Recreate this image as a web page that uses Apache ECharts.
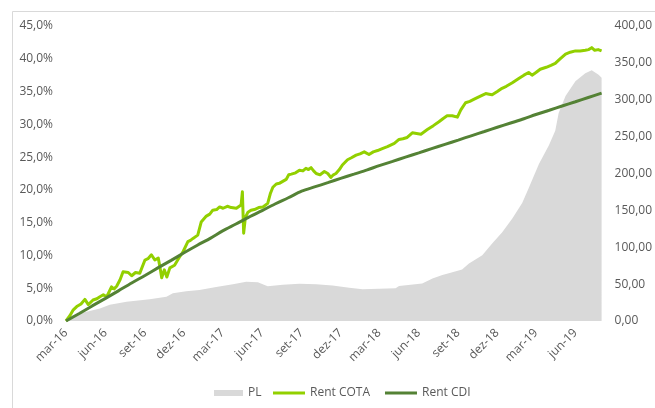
<!DOCTYPE html>
<html>
<head>
<meta charset="utf-8">
<script src="https://cdn.jsdelivr.net/npm/echarts@6/dist/echarts.min.js"></script>
<style>
html,body{margin:0;padding:0;background:#fff;}
#c{width:655px;height:408px;}
</style>
</head>
<body>
<div id="c"></div>
<script>
// ---- DATA ----
const xTickDates = ['2016-03-01','2016-06-01','2016-09-01','2016-12-01','2017-03-01','2017-06-01','2017-09-01','2017-12-01','2018-03-01','2018-06-01','2018-09-01','2018-12-01','2019-03-01','2019-06-01'];
const xTickLabels = ['mar-16','jun-16','set-16','dez-16','mar-17','jun-17','set-17','dez-17','mar-18','jun-18','set-18','dez-18','mar-19','jun-19'];

const plDates = ['2016-03-01','2016-03-18','2016-04-18','2016-05-19','2016-06-11','2016-07-20','2016-09-12','2016-10-21','2016-11-05','2016-12-06','2017-01-06','2017-02-14','2017-03-25','2017-04-25','2017-05-22','2017-06-14','2017-07-19','2017-08-27','2017-10-05','2017-11-12','2017-12-21','2018-01-21','2018-04-08','2018-04-16','2018-06-09','2018-07-03','2018-07-26','2018-08-10','2018-09-10','2018-09-26','2018-10-27','2018-11-19','2018-12-12','2019-01-05','2019-01-28','2019-02-12','2019-03-08','2019-03-31','2019-04-15','2019-04-23','2019-05-09','2019-06-01','2019-06-24','2019-07-09','2019-07-25','2019-08-01'];
const plValues = [0,8,12.6,17,22,26,29.5,33,37.5,40.5,42,46,50,53.3,52.5,47,49,50.5,50,48,45,43,44.3,47.5,51,57.5,62.4,64.7,70,78,89,105,120,139,160,180,213,238,258,282,305,325,336,340,334,330];

const cotaDates = ['2016-03-01','2016-03-10','2016-03-18','2016-03-26','2016-04-05','2016-04-14','2016-04-22','2016-05-03','2016-05-12','2016-05-19','2016-05-27','2016-06-04','2016-06-15','2016-06-21','2016-06-27','2016-07-05','2016-07-12','2016-07-24','2016-08-01','2016-08-10','2016-08-20','2016-09-01','2016-09-08','2016-09-16','2016-09-24','2016-10-02','2016-10-06','2016-10-10','2016-10-16','2016-10-22','2016-10-29','2016-11-09','2016-11-18','2016-11-29','2016-12-10','2016-12-16','2016-12-22','2017-01-02','2017-01-10','2017-01-22','2017-01-30','2017-02-06','2017-02-15','2017-02-22','2017-03-02','2017-03-12','2017-03-21','2017-04-02','2017-04-13','2017-04-16','2017-04-19','2017-04-23','2017-04-29','2017-05-06','2017-05-14','2017-05-24','2017-06-03','2017-06-14','2017-06-20','2017-06-26','2017-07-04','2017-07-11','2017-07-19','2017-07-27','2017-08-02','2017-08-08','2017-08-18','2017-08-27','2017-09-04','2017-09-11','2017-09-17','2017-09-23','2017-09-29','2017-10-05','2017-10-14','2017-10-24','2017-11-01','2017-11-08','2017-11-14','2017-11-20','2017-11-28','2017-12-05','2017-12-17','2017-12-26','2018-01-06','2018-01-15','2018-01-25','2018-02-05','2018-02-15','2018-02-25','2018-03-08','2018-03-20','2018-04-05','2018-04-16','2018-04-25','2018-05-05','2018-05-17','2018-05-27','2018-06-06','2018-06-21','2018-07-05','2018-07-18','2018-07-28','2018-08-06','2018-08-18','2018-08-30','2018-09-07','2018-09-18','2018-09-28','2018-10-07','2018-10-19','2018-11-04','2018-11-12','2018-11-19','2018-12-01','2018-12-12','2018-12-22','2019-01-05','2019-01-20','2019-02-01','2019-02-12','2019-02-20','2019-03-01','2019-03-11','2019-03-25','2019-04-05','2019-04-15','2019-04-25','2019-05-09','2019-05-20','2019-06-01','2019-06-12','2019-06-24','2019-07-02','2019-07-09','2019-07-16','2019-07-24','2019-08-01'];
const cotaValues = [0.0,0.8,1.7,2.2,2.6,3.3,2.5,3.2,3.4,3.7,4.0,3.7,5.2,4.9,5.3,6.3,7.5,7.4,6.9,7.4,7.3,9.3,9.5,10.1,9.3,9.6,8.2,6.6,7.8,6.7,8.1,8.5,9.5,10.6,12.1,12.3,12.6,13.1,15.1,16.0,16.3,16.9,17.0,17.4,17.2,17.5,17.3,17.2,17.7,19.7,13.4,15.8,16.6,16.9,17.0,17.3,17.4,17.95,19.4,20.4,20.9,21.0,21.3,21.6,22.3,22.4,22.6,23.0,22.9,23.3,23.1,23.4,22.9,22.5,22.3,22.8,22.5,21.9,22.3,22.5,23.1,23.8,24.6,24.9,25.3,25.5,25.8,25.4,25.8,26.0,26.3,26.6,27.1,27.7,27.8,28.0,28.7,28.6,28.5,29.2,29.8,30.4,30.9,31.3,31.3,31.1,32.2,33.3,33.5,33.8,34.2,34.7,34.6,34.5,35.0,35.5,35.8,36.35,37.0,37.5,37.9,37.5,37.9,38.4,38.7,39.0,39.3,39.9,40.7,41.0,41.2,41.2,41.3,41.4,41.7,41.3,41.4,41.2];

const cdiDates = ['2016-03-01','2016-04-01','2016-05-01','2016-06-01','2016-07-01','2016-08-01','2016-09-01','2016-10-01','2016-11-01','2016-12-01','2017-01-01','2017-02-01','2017-03-01','2017-04-01','2017-05-01','2017-06-01','2017-07-01','2017-08-01','2017-09-01','2017-10-01','2017-11-01','2017-12-01','2018-01-01','2018-02-01','2018-03-01','2018-04-01','2018-05-01','2018-06-01','2018-07-01','2018-08-01','2018-09-01','2018-10-01','2018-11-01','2018-12-01','2019-01-01','2019-02-01','2019-03-01','2019-04-01','2019-05-01','2019-06-01','2019-07-01','2019-08-01'];
const cdiValues = [0,1.15,2.3,3.45,4.6,5.8,6.95,8.1,9.25,10.4,11.55,12.65,13.75,14.8,15.85,16.85,17.85,18.8,19.8,20.45,21.1,21.75,22.4,23.05,23.7,24.35,25.0,25.65,26.3,26.95,27.6,28.25,28.9,29.55,30.2,30.85,31.5,32.15,32.8,33.45,34.1,34.75];

// ---- CHART ----
const ts = s => { const p = s.split('-').map(Number); return Date.UTC(p[0], p[1] - 1, p[2]); };
const zip = (d, v) => d.map((x, i) => [ts(x), v[i]]);
const tickTs = xTickDates.map(ts);
const FONT = '"Open Sans", "Noto Sans", sans-serif';
const GREY = '#595959';

const chart = echarts.init(document.getElementById('c'), null, {renderer: 'canvas'});
chart.setOption({
  animation: false,
  backgroundColor: '#fff',
  textStyle: {fontFamily: FONT},
  graphic: [{
    type: 'rect', left: 10, top: 9, silent: true, z: -10,
    shape: {x: 0, y: 0, width: 700, height: 450},
    style: {fill: 'none', stroke: '#D9D9D9', lineWidth: 1}
  }],
  grid: {left: 66, right: 52, top: 26, bottom: 87, containLabel: false},
  legend: [{
    left: 214, top: 387, padding: 0, itemWidth: 29, itemHeight: 6, itemGap: 15,
    textStyle: {color: GREY, fontSize: 12, fontFamily: FONT},
    data: [{name: 'PL', icon: 'rect'}]
  }, {
    left: 273, top: 387, padding: 0, itemWidth: 32, itemHeight: 3, itemGap: 15,
    textStyle: {color: GREY, fontSize: 12, fontFamily: FONT},
    data: [{name: 'Rent COTA', icon: 'rect'}, {name: 'Rent CDI', icon: 'rect'}]
  }],
  xAxis: {
    type: 'value',
    min: ts('2016-03-01'), max: ts('2019-08-01'),
    axisLine: {show: false},
    axisTick: {show: false},
    splitLine: {show: false},
    axisLabel: {
      customValues: tickTs,
      rotate: 45, margin: 10, color: GREY, fontSize: 12, fontFamily: FONT,
      formatter: (v) => {
        let best = 0, bd = Infinity;
        tickTs.forEach((t, i) => { const d = Math.abs(t - v); if (d < bd) { bd = d; best = i; } });
        return xTickLabels[best];
      }
    }
  },
  yAxis: [{
    type: 'value', min: 0, max: 45, interval: 5,
    axisLine: {show: false}, axisTick: {show: false}, splitLine: {show: false},
    axisLabel: {color: GREY, fontSize: 12, margin: 13, fontFamily: FONT,
      formatter: v => v.toFixed(1).replace('.', ',') + '%'}
  }, {
    type: 'value', min: 0, max: 400, interval: 50,
    axisLine: {show: false}, axisTick: {show: false}, splitLine: {show: false},
    axisLabel: {color: GREY, fontSize: 12, margin: 13, fontFamily: FONT,
      formatter: v => v.toFixed(2).replace('.', ',')}
  }],
  series: [{
    name: 'PL', type: 'line', yAxisIndex: 1,
    data: zip(plDates, plValues),
    symbol: 'none', lineStyle: {width: 0},
    itemStyle: {color: '#D9D9D9'},
    areaStyle: {color: '#D9D9D9', opacity: 1},
    z: 1
  }, {
    name: 'Rent COTA', type: 'line', yAxisIndex: 0,
    data: zip(cotaDates, cotaValues),
    symbol: 'none',
    itemStyle: {color: '#92D000'},
    lineStyle: {color: '#92D000', width: 3, join: 'round'},
    z: 2
  }, {
    name: 'Rent CDI', type: 'line', yAxisIndex: 0,
    data: zip(cdiDates, cdiValues),
    symbol: 'none', smooth: 0.3,
    itemStyle: {color: '#548235'},
    lineStyle: {color: '#548235', width: 3},
    z: 3
  }]
});
</script>
</body>
</html>
